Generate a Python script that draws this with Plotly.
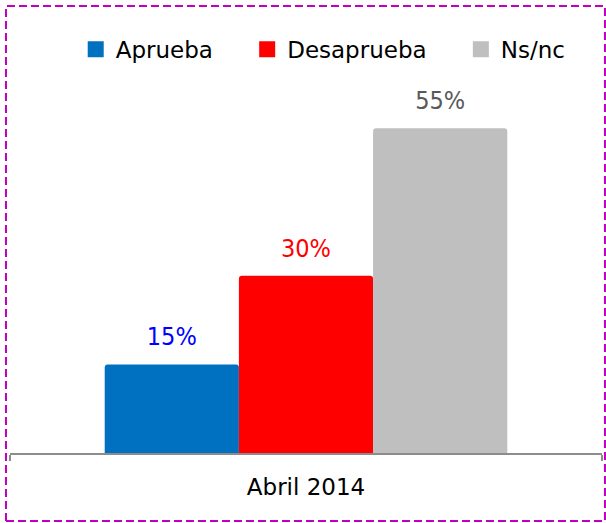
import plotly.graph_objects as go

categories = ["Abril 2014"]
series_names = ["Aprueba", "Desaprueba", "Ns/nc"]
series_values = [[15], [30], [55]]
bar_colors = ["#0070C0", "#FF0000", "#BFBFBF"]
label_colors = ["#0000FF", "#FF0000", "#595959"]

FONT = "DejaVu Sans"
LABEL_FONT = "DejaVu Sans Condensed"

fig = go.Figure()
for name, vals, col, lcol in zip(series_names, series_values, bar_colors, label_colors):
    fig.add_trace(go.Bar(
        x=categories, y=vals, name=name, marker_color=col,
        marker_line_width=0, offsetgroup=name,
        cliponaxis=False, showlegend=False, hoverinfo="skip",
    ))
for name, vals, col, lcol in zip(series_names, series_values, bar_colors, label_colors):
    # value labels, placed above the bar tops
    fig.add_trace(go.Scatter(
        x=categories, y=vals, mode="markers+text", offsetgroup=name,
        marker=dict(size=19, opacity=0, color=col),
        text=[f"{v}%" for v in vals], textposition="top center",
        textfont=dict(color=lcol, size=25, family=LABEL_FONT),
        cliponaxis=False, showlegend=False, hoverinfo="skip",
    ))
for name, vals, col, lcol in zip(series_names, series_values, bar_colors, label_colors):
    # legend entries with larger square symbols
    fig.add_trace(go.Scatter(
        x=[None], y=[None], mode="markers", name=name + "\u00a0" * 4,
        offsetgroup=name,
        marker=dict(symbol="square", size=16, color=col),
        showlegend=True,
    ))

fig.update_layout(
    width=606, height=523,
    margin=dict(l=10, r=4, t=75, b=70),
    paper_bgcolor="white", plot_bgcolor="white",
    barmode="group", bargap=0.32, bargroupgap=0,
    scattermode="group", scattergap=0.32,
    barcornerradius=3,
    font=dict(family=FONT, size=23, color="#000000"),
    legend=dict(orientation="h", x=0.111, xanchor="left", y=1.125, yanchor="top",
                font=dict(size=23, family=FONT), itemsizing="trace",
                bgcolor="rgba(0,0,0,0)"),
    xaxis=dict(range=[-0.5, 0.5], showline=True, linecolor="#8C8C8C", linewidth=2,
               ticks="outside", tickson="boundaries", ticklen=6, tickcolor="#8C8C8C",
               tickwidth=2, showgrid=False, zeroline=False,
               tickfont=dict(size=23, family=FONT, color="#000000"),
               ticklabelstandoff=12),
    yaxis=dict(range=[0, 64], visible=False, showgrid=False, zeroline=False),
    shapes=[dict(type="rect", xref="paper", yref="paper",
                 x0=-0.0068, x1=1.005, y0=-0.18, y1=1.1825,
                 line=dict(color="#BF00BF", width=2, dash="8px,4px"),
                 fillcolor="rgba(0,0,0,0)", layer="above")],
)

fig.write_html("out.html", config={"displayModeBar": False},
               post_script="document.body.style.margin='0';")
